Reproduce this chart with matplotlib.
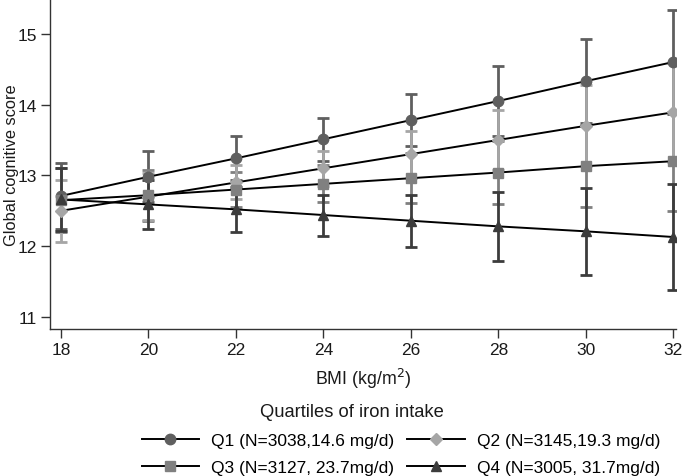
import matplotlib
matplotlib.use("Agg")
import matplotlib.pyplot as plt
from matplotlib.lines import Line2D

plt.rcParams['font.family'] = ['Liberation Sans', 'DejaVu Sans']

bmi = [18, 20, 22, 24, 26, 28, 30, 32]
labels = ["Q1 (N=3038,14.6 mg/d)", "Q2 (N=3145,19.3 mg/d)",
          "Q3 (N=3127, 23.7mg/d)", "Q4 (N=3005, 31.7mg/d)"]
q1 = [12.71, 12.98, 13.24, 13.51, 13.78, 14.05, 14.33, 14.60]
q2 = [12.50, 12.70, 12.90, 13.10, 13.30, 13.50, 13.70, 13.89]
q3 = [12.65, 12.72, 12.80, 12.88, 12.96, 13.04, 13.13, 13.20]
q4 = [12.66, 12.59, 12.52, 12.44, 12.36, 12.28, 12.21, 12.13]
q1_err = [0.47, 0.36, 0.31, 0.30, 0.37, 0.49, 0.59, 0.73]
q2_err = [0.44, 0.33, 0.24, 0.25, 0.33, 0.42, 0.57, 0.70]
q3_err = [0.45, 0.36, 0.25, 0.26, 0.35, 0.45, 0.58, 0.70]
q4_err = [0.45, 0.35, 0.32, 0.29, 0.37, 0.49, 0.61, 0.75]

series = [
    (q1, q1_err, 'o', '#5f5f5f', 7.5, 2),
    (q2, q2_err, 'D', '#a6a6a6', 6.5, 4),
    (q3, q3_err, 's', '#808080', 6.5, 3),
    (q4, q4_err, '^', '#3c3c3c', 7.5, 5),
]

fig = plt.figure(figsize=(6.92, 4.77), dpi=100)
ax = fig.add_axes([0.0723, 0.308, 0.905, 0.692])

for vals, err, mk, col, ms, z in series:
    ax.errorbar(bmi, vals, yerr=err, fmt='none', ecolor=col, elinewidth=2.0,
                capsize=4.5, capthick=2.0, zorder=z)
for vals, err, mk, col, ms, z in series:
    ax.plot(bmi, vals, color='black', lw=1.4, zorder=6)
for vals, err, mk, col, ms, z in series:
    ax.plot(bmi, vals, ls='none', marker=mk, color=col, ms=ms, zorder=7)

ax.set_xlim(17.75, 32.07)
ax.set_ylim(10.83, 15.49)
ax.set_xticks(bmi)
ax.set_yticks([11, 12, 13, 14, 15])
for s in ['top', 'right']:
    ax.spines[s].set_visible(False)
for s in ['left', 'bottom']:
    ax.spines[s].set_color('#333333')
    ax.spines[s].set_linewidth(1.0)
ax.tick_params(axis='both', labelsize=12.5, length=6.5, width=1.0, color='#333333',
               labelcolor='#1a1a1a', pad=3)
ax.set_xlabel("BMI (kg/m$^2$)", fontsize=12.8, labelpad=6, color='#1a1a1a')
ax.set_ylabel("Global cognitive score", fontsize=11.8, color='#1a1a1a')
ax.yaxis.set_label_coords(-0.049, 0.5)

handles = [Line2D([], [], color='black', lw=1.4, marker=mk, markerfacecolor=col,
                  markeredgecolor=col, ms=ms)
           for vals, err, mk, col, ms, z in series]
order = [0, 2, 1, 3]
fig.legend([handles[i] for i in order], [labels[i] for i in order], ncol=2,
           loc='center', bbox_to_anchor=(401 / 692, 1 - 455 / 477), frameon=False,
           fontsize=12.5, handlelength=3.3, handletextpad=0.7, columnspacing=0.75,
           labelspacing=0.68, borderpad=0.0)
fig.text(352 / 692, 1 - 413 / 477, "Quartiles of iron intake", ha='center', va='center',
         fontsize=13.2, color='#1a1a1a')

fig.savefig("out.png", dpi=100)
